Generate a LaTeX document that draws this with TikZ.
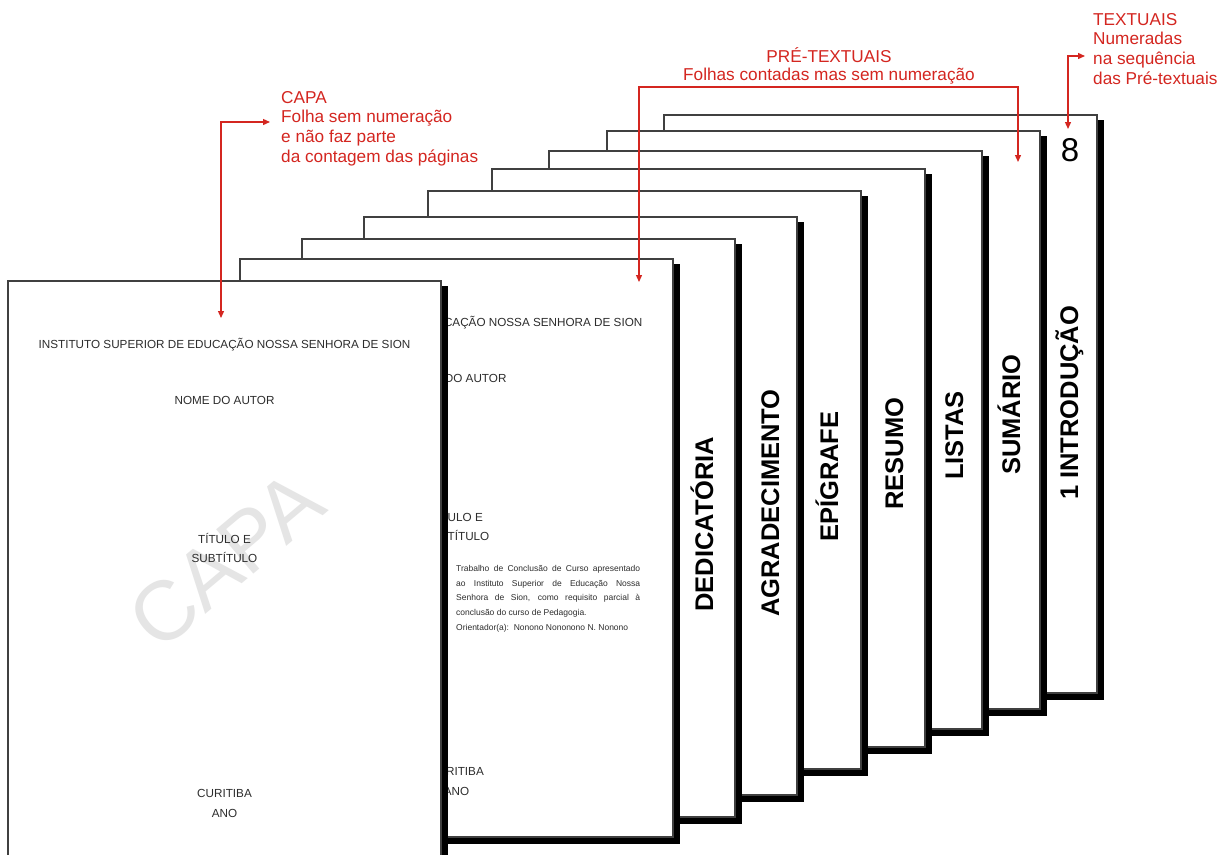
\documentclass[tikz,border=0pt]{standalone}
\usepackage{fontspec}
\setmainfont{Liberation Sans}
\usetikzlibrary{arrows.meta}

\definecolor{vermelho}{RGB}{212,38,32}
\definecolor{cinzatexto}{RGB}{45,45,45}

\tikzset{
  folha/.style={fill=white,draw=black!75,line width=1.1pt},
  sombra/.style={fill=black},
  texto/.style={inner sep=0pt,anchor=base,text=cinzatexto,font=\fontsize{11.7}{14}\selectfont},
  paragrafo/.style={inner sep=0pt,anchor=north west,align=left,text=cinzatexto,font=\fontsize{8.5}{14.75}\selectfont},
  rotulo/.style={inner sep=0pt,anchor=base west,rotate=90,font=\bfseries\fontsize{25.5}{30}\selectfont},
  numero/.style={inner sep=0pt,anchor=base,font=\fontsize{33}{33}\selectfont},
  marca/.style={inner sep=0pt,text=black!10,rotate=40,font=\fontsize{84}{84}\selectfont},
  nota/.style={inner sep=0pt,text=vermelho,font=\fontsize{17.2}{19.6}\selectfont},
  seta/.style={vermelho,line width=1.3pt,{Triangle[length=7pt,width=6pt]}-{Triangle[length=7pt,width=6pt]}}
}

% uma folha com sombra, canto superior esquerdo em (0,0)
\newcommand{\pagina}{%
  \fill[sombra] (6,5) rectangle (440,585);
  \path[folha] (0,0) rectangle (433,578);}

% textos comuns da capa e da folha de rosto
\newcommand{\cabecalho}{%
  \node[texto] (instituto) at (216.5,67) {INSTITUTO SUPERIOR DE EDUCAÇÃO NOSSA SENHORA DE SION};
  \node[texto] (autor) at (216.5,123) {NOME DO AUTOR};
  \node[texto] (titulo) at (216.5,262) {TÍTULO E};
  \node[texto] (subtitulo) at (216.5,281) {SUBTÍTULO};
  \node[texto] (cidade) at (216.5,516) {CURITIBA};
  \node[texto] (ano) at (216.5,536) {ANO};}

\begin{document}
\begin{tikzpicture}[x=1pt,y=-1pt]
\useasboundingbox (0,0) rectangle (1220,854);
\fill[white] (0,0) rectangle (1220,854);

% folhas, de tras para a frente
\begin{scope}[shift={(664,115)}]
    \pagina
    \node[numero] (oito) at (406,46) {8};
    \node[rotulo] (introducao) at (414,385) {1 INTRODUÇÃO};
\end{scope}
\begin{scope}[shift={(607,131)}]
    \pagina
    \node[rotulo] (sumario) at (413,344) {SUMÁRIO};
\end{scope}
\begin{scope}[shift={(549,151)}]
    \pagina
    \node[rotulo] (listas) at (414,329) {LISTAS};
\end{scope}
\begin{scope}[shift={(492,169)}]
    \pagina
    \node[rotulo] (resumo) at (411,341) {RESUMO};
\end{scope}
\begin{scope}[shift={(428,191)}]
    \pagina
    \node[rotulo] (epigrafe) at (410,351) {EPÍGRAFE};
\end{scope}
\begin{scope}[shift={(364,217)}]
    \pagina
    \node[rotulo] (agradecimento) at (415,400) {AGRADECIMENTO};
\end{scope}
\begin{scope}[shift={(302,239)}]
    \pagina
    \node[rotulo] (dedicatoria) at (411,373) {DEDICATÓRIA};
\end{scope}

% folha de rosto
\begin{scope}[shift={(240,259)},name prefix=rosto-]
    \pagina
    \cabecalho
    \node[paragrafo] (trabalho) at (216,306) {%
      \makebox[184pt][s]{Trabalho de Conclusão de Curso apresentado}\\
      \makebox[184pt][s]{ao Instituto Superior de Educação Nossa}\\
      \makebox[184pt][s]{Senhora de Sion, como requisito parcial à}\\
      conclusão do curso de Pedagogia.\\
      Orientador(a):\ \ Nonono Nononono N. Nonono};
\end{scope}

% capa
\begin{scope}[shift={(8,281)},name prefix=capa-]
    \pagina
    \node[marca] (marca) at (218,279) {CAPA};
    \cabecalho
\end{scope}

% notas em vermelho
\node[nota,anchor=north west,align=left] (notacapa) at (281,91)
  {CAPA\\Folha sem numeração\\e não faz parte\\da contagem das páginas};
\node[nota,anchor=north,align=center,font=\fontsize{17.2}{18}\selectfont] (notapre) at (829,47)
  {PRÉ-TEXTUAIS\\Folhas contadas mas sem numeração};
\node[nota,anchor=north west,align=left] (notatext) at (1093,13)
  {TEXTUAIS\\Numeradas\\na sequência\\das Pré-textuais};

\coordinate (capaponta) at (270,122);
\coordinate (capaalvo) at (221,318);
\coordinate (prealvoA) at (639,282);
\coordinate (pretopo) at (829,87);
\coordinate (prealvoB) at (1018,162);
\coordinate (textponta) at (1085,56);
\coordinate (textalvo) at (1068,129);

\draw[seta] (capaponta) -| (capaalvo);
\draw[seta] (prealvoA) |- (pretopo) -| (prealvoB);
\draw[seta] (textponta) -| (textalvo);
\end{tikzpicture}
\end{document}
